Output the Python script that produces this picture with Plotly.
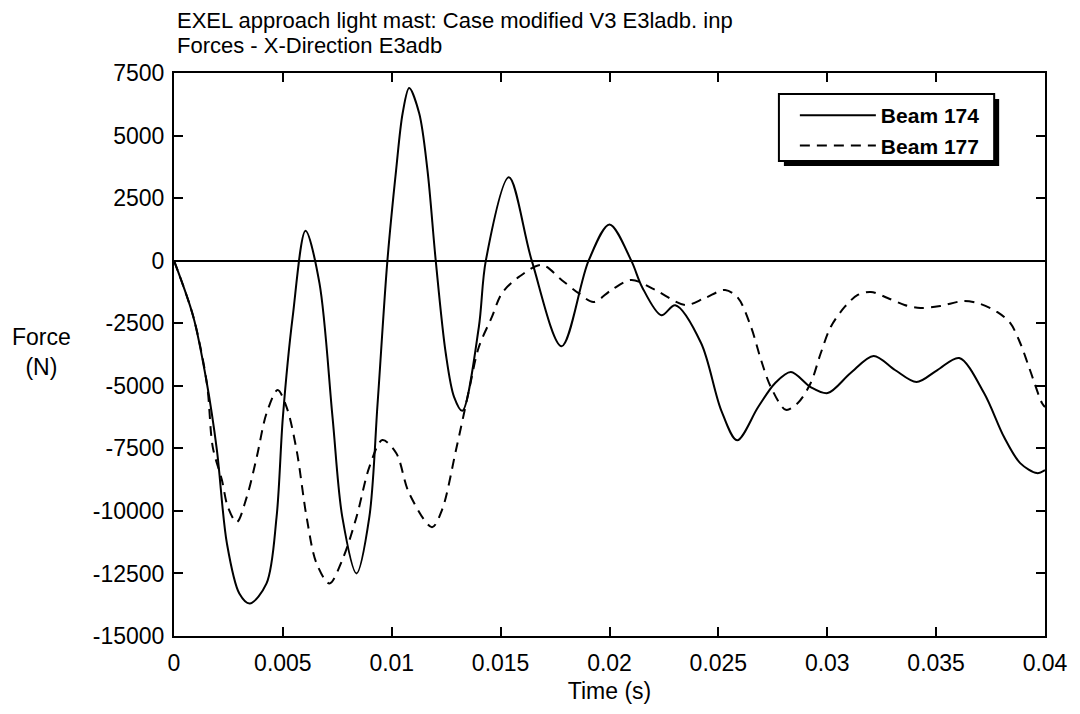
import plotly.graph_objects as go

# ---- data ----
t_174 = [0.0, 0.00089, 0.00151, 0.00197, 0.00243, 0.00300, 0.00348, 0.00425, 0.00471, 0.00500, 0.00545,
         0.00604, 0.00668, 0.00728, 0.00773, 0.00838, 0.00897, 0.00935, 0.00980, 0.01020, 0.01050,
         0.01080, 0.01126, 0.01164, 0.01202, 0.01248, 0.01286, 0.01324, 0.01400, 0.01432, 0.01538,
         0.01643, 0.01780, 0.01904, 0.02000, 0.02100, 0.02150, 0.02238, 0.02302, 0.02421, 0.02513,
         0.02586, 0.02682, 0.02760, 0.02833, 0.02924, 0.03002, 0.03106, 0.03213, 0.03311, 0.03410,
         0.03506, 0.03606, 0.03720, 0.03812, 0.03886, 0.03963, 0.04000]
f_174 = [0, -2250, -4900, -7570, -11300, -13300, -13700, -12900, -10250, -6250, -2250,
         1200, -900, -6250, -10250, -12500, -10250, -5700, 0, 3620, 5890,
         6900, 5890, 3620, 0, -3700, -5440, -6000, -2650, 0, 3330,
         0, -3420, 0, 1450, 0, -1060, -2180, -1780, -3300, -5980,
         -7180, -5860, -4900, -4450, -5050, -5290, -4500, -3810, -4370, -4850,
         -4370, -3890, -5290, -7050, -8090, -8490, -8370]

t_177 = [0.0, 0.00089, 0.00151, 0.00178, 0.00220, 0.00247, 0.00288, 0.00334, 0.00380, 0.00425, 0.00476,
         0.00517, 0.00563, 0.00609, 0.00654, 0.00714, 0.00773, 0.00838, 0.00897, 0.00957, 0.01021,
         0.01080, 0.01185, 0.01231, 0.01295, 0.01355, 0.01400, 0.01460, 0.01506, 0.01584, 0.01689,
         0.01780, 0.01858, 0.01927, 0.02009, 0.02100, 0.02210, 0.02348, 0.02439, 0.02531, 0.02590,
         0.02650, 0.02696, 0.02741, 0.02810, 0.02865, 0.02924, 0.02970, 0.03016, 0.03080, 0.03140,
         0.03200, 0.03277, 0.03355, 0.03428, 0.03520, 0.03629, 0.03703, 0.03780, 0.03840, 0.03886,
         0.03931, 0.03986, 0.04000]
f_177 = [0, -2250, -4900, -7450, -8770, -9830, -10450, -9450, -7850, -6100, -5170,
         -5850, -7570, -10250, -12080, -12900, -11960, -10250, -8250, -7170, -7700,
         -9300, -10650, -9960, -7570, -5170, -3450, -2250, -1300, -650, -170,
         -770, -1300, -1650, -1170, -770, -1170, -1770, -1490, -1170, -1490,
         -2650, -3970, -5050, -5960, -5690, -4890, -3700, -2650, -1850, -1370,
         -1250, -1490, -1770, -1890, -1810, -1610, -1730, -2050, -2490, -3290,
         -4370, -5690, -5850]

x_ticks = [0, 0.005, 0.01, 0.015, 0.02, 0.025, 0.03, 0.035, 0.04]
x_tick_labels = ["0", "0.005", "0.01", "0.015", "0.02", "0.025", "0.03", "0.035", "0.04"]
y_ticks = [-15000, -12500, -10000, -7500, -5000, -2500, 0, 2500, 5000, 7500]
y_tick_labels = [str(v) for v in y_ticks]

series_names = ["Beam 174", "Beam 177"]
title_lines = ["EXEL approach light mast: Case modified V3 E3ladb. inp",
               "Forces - X-Direction E3adb"]

FONT = "Liberation Sans, Arial, sans-serif"
FS = 23

# page-pixel helpers (page has an 8px body margin; plot area spans x 174..1048, y 73..636)
def px(X):
    return (X - 174) / 874.0

def py(Y):
    return (636 - Y) / 563.0

fig = go.Figure()
fig.add_trace(go.Scatter(x=t_174, y=f_174, mode="lines", name=series_names[0],
                         line=dict(color="black", width=2, shape="spline", smoothing=0.9)))
fig.add_trace(go.Scatter(x=t_177, y=f_177, mode="lines", name=series_names[1],
                         line=dict(color="black", width=2, dash="10px,7px", shape="spline", smoothing=0.9)))

axis_common = dict(showline=True, linecolor="black", linewidth=2, mirror="allticks",
                   ticks="inside", ticklen=9, tickwidth=1.5, tickcolor="black",
                   showgrid=False, tickfont=dict(family=FONT, size=FS, color="black"))

fig.update_xaxes(range=[0, 0.04], tickvals=x_ticks, ticktext=x_tick_labels,
                 zeroline=False, ticklabelstandoff=5,
                 title=dict(text="Time (s)", font=dict(family=FONT, size=FS, color="black"), standoff=8),
                 **axis_common)
fig.update_yaxes(range=[-15000, 7500], tickvals=y_ticks, ticktext=y_tick_labels,
                 zeroline=True, zerolinecolor="black", zerolinewidth=1.5, ticklabelstandoff=3,
                 **axis_common)

# legend frame with drop shadow
fig.add_shape(type="rect", xref="paper", yref="paper",
              x0=px(786), x1=px(1002), y0=py(166), y1=py(99),
              fillcolor="black", line=dict(width=0), layer="above")
fig.add_shape(type="rect", xref="paper", yref="paper",
              x0=px(781), x1=px(997), y0=py(161), y1=py(94),
              fillcolor="white", line=dict(color="black", width=2), layer="above")

fig.update_layout(
    width=1072, height=706,
    margin=dict(l=166, r=32, t=65, b=78),
    plot_bgcolor="white", paper_bgcolor="white",
    font=dict(family=FONT, size=FS, color="black"),
    showlegend=True,
    legend=dict(x=px(797), y=py(95), xanchor="left", yanchor="top",
                bgcolor="rgba(0,0,0,0)", borderwidth=0,
                font=dict(family=FONT, size=21, color="black", weight="bold"),
                itemwidth=76, tracegroupgap=0),
    annotations=[
        dict(text=title_lines[0], xref="paper", yref="paper", x=0, y=py(20.5),
             xanchor="left", yanchor="middle", showarrow=False, xshift=1,
             font=dict(family=FONT, size=22, color="black")),
        dict(text=title_lines[1], xref="paper", yref="paper", x=0, y=py(45.5),
             xanchor="left", yanchor="middle", showarrow=False, xshift=1,
             font=dict(family=FONT, size=22, color="black")),
        dict(text="Force<br>(N)", xref="paper", yref="paper", x=px(41), y=py(352),
             xanchor="center", yanchor="middle", showarrow=False,
             font=dict(family=FONT, size=FS, color="black")),
    ],
)

fig.write_html("out.html")
